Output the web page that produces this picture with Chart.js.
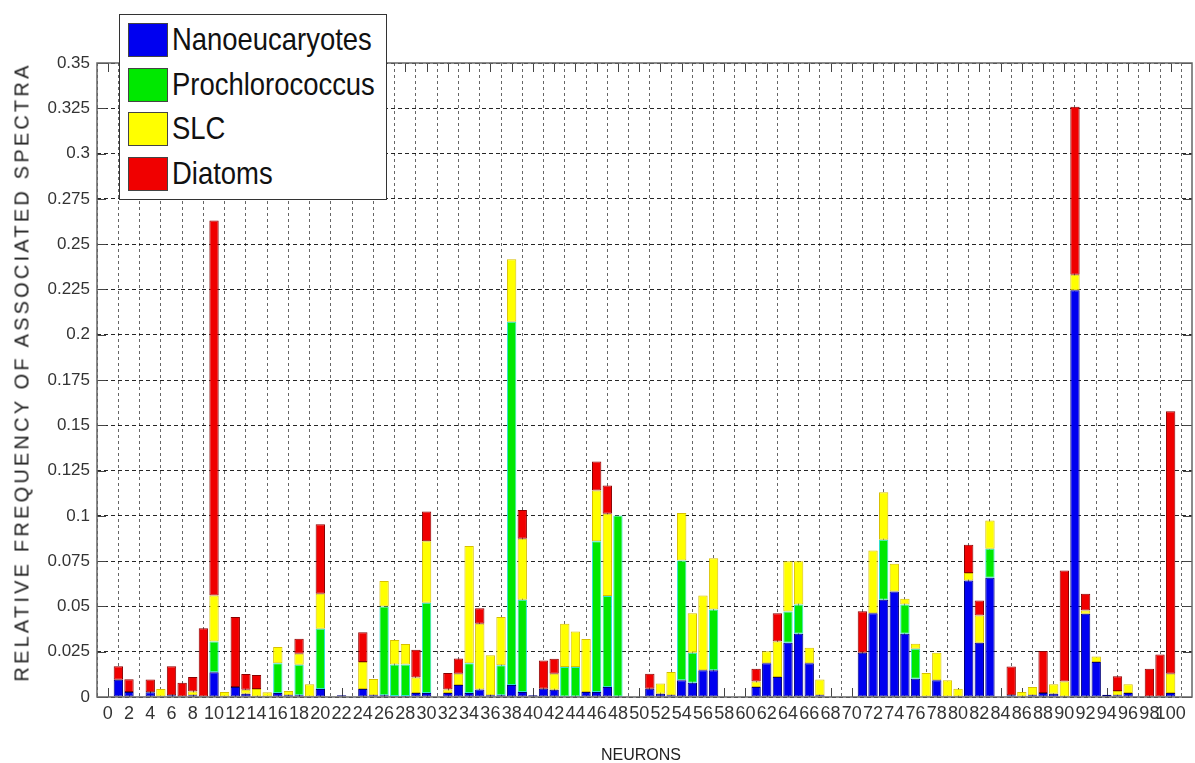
<!DOCTYPE html>
<html>
<head>
<meta charset="utf-8">
<title>Neurons</title>
<script src="https://cdn.jsdelivr.net/npm/chart.js@4.4.0/dist/chart.umd.min.js"></script>
<style>
  body { margin: 0; background: #fff; }
  #wrap { position: relative; width: 1195px; height: 763px; overflow: hidden; }
  #legend {
    position: absolute; left: 119px; top: 14px; width: 268px; height: 186px;
    border: 1px solid #333; background: #fff; box-sizing: border-box;
  }
  .item { position: absolute; left: 8px; height: 34px; }
  .item span.sw { position: absolute; left: 0; top: 0; width: 40px; height: 34px; box-sizing: border-box; border: 1px solid #444; }
  .item span.tx {
    position: absolute; left: 44px; top: -2px; white-space: nowrap;
    font: 28px 'Liberation Sans', Arial, sans-serif; color: #111; line-height: 38px;
    transform: scale(0.98, 1.12); transform-origin: left center;
  }
  #ytitle {
    position: absolute; left: 22px; top: 372px; white-space: nowrap;
    font: 20px 'Liberation Sans', Arial, sans-serif; letter-spacing: 3.2px; color: #222;
    transform: translate(-50%, -50%) rotate(-90deg);
  }
  #xtitle {
    position: absolute; left: 641px; top: 755px; white-space: nowrap;
    font: 16px 'Liberation Sans', Arial, sans-serif; color: #222;
    transform: translate(-50%, -50%);
  }
</style>
</head>
<body>
<div id="wrap">
  <canvas id="neuronChart" width="1195" height="763"></canvas>
  <div id="legend"></div>
  <div id="ytitle">RELATIVE FREQUENCY OF ASSOCIATED SPECTRA</div>
  <div id="xtitle">NEURONS</div>
</div>
<script>
// neurons 1..100
const neurons = [
  1,2,3,4,5,6,7,8,9,10,11,12,13,14,15,16,17,18,19,20,
  21,22,23,24,25,26,27,28,29,30,31,32,33,34,35,36,37,38,39,40,
  41,42,43,44,45,46,47,48,49,50,51,52,53,54,55,56,57,58,59,60,
  61,62,63,64,65,66,67,68,69,70,71,72,73,74,75,76,77,78,79,80,
  81,82,83,84,85,86,87,88,89,90,91,92,93,94,95,96,97,98,99,100];

const nanoeucaryotes = [
  0.0095,0.0028,0,0.0026,0,0.001,0,0.001,0,0.0136,
  0,0.0055,0.0018,0,0,0.0022,0.001,0.001,0,0.0044,
  0,0.001,0,0.0044,0.001,0.001,0.0005,0.0005,0.0022,0.0022,
  0,0.0022,0.0066,0.0022,0.0042,0.001,0.001,0.0066,0.0028,0.001,
  0.0046,0.004,0,0,0.0028,0.0028,0.0055,0,0,0,
  0.0046,0.0018,0.001,0.0092,0.0079,0.0147,0.0147,0,0,0,
  0.0055,0.0187,0.011,0.03,0.0349,0.0187,0.001,0,0,0,
  0.0244,0.0463,0.0537,0.0583,0.0349,0.0101,0,0.0092,0,0,
  0.0643,0.03,0.0658,0,0.001,0,0.001,0.0022,0.0018,0,
  0.2245,0.046,0.0193,0.0013,0.001,0.0022,0,0,0,0.0022];

const prochlorococcus = [
  0,0,0,0,0,0,0,0,0,0.0171,
  0,0,0,0,0,0.0165,0,0.0168,0,0.0333,
  0,0,0,0,0,0.049,0.0175,0.0175,0,0.0498,
  0,0,0,0.0165,0,0,0.0165,0.2006,0.0509,0,
  0,0,0.0165,0.0165,0,0.0832,0.0502,0.1002,0,0,
  0,0,0,0.0662,0.0165,0,0.0336,0,0,0,
  0,0,0,0.0172,0.0162,0,0,0,0,0,
  0,0,0.0331,0,0.0162,0.0166,0,0,0,0,
  0,0,0.016,0,0,0,0,0,0,0,
  0,0,0,0,0,0,0,0,0,0];

const slc = [
  0,0,0,0,0.0044,0,0,0.002,0,0.0254,
  0.0028,0,0.0022,0.0044,0.0026,0.0089,0.0023,0.0061,0.007,0.0193,
  0,0,0,0.0149,0.009,0.014,0.0134,0.0112,0.0085,0.034,
  0,0.002,0.0063,0.0646,0.0362,0.022,0.0266,0.0345,0.0336,0,
  0,0.0089,0.0239,0.0197,0.0292,0.028,0.0454,0,0,0,
  0,0.0056,0.0128,0.0262,0.0219,0.0414,0.0283,0,0,0,
  0.003,0.0065,0.0197,0.0278,0.0239,0.0085,0.0087,0,0,0,
  0,0.0346,0.0262,0.0152,0.0031,0.0027,0.0132,0.0152,0.0092,0.0046,
  0.0041,0.015,0.0156,0,0,0.0028,0.0045,0,0.0052,0.0086,
  0.0086,0.0018,0.0031,0,0.0023,0.0048,0,0,0,0.0107];

const diatoms = [
  0.0075,0.007,0,0.007,0,0.016,0.0079,0.008,0.038,0.207,
  0,0.0386,0.0087,0.0077,0,0,0,0.0083,0,0.0384,
  0,0,0,0.0164,0,0,0,0,0.0154,0.0164,
  0,0.009,0.0084,0,0.0086,0,0,0,0.016,0,
  0.0156,0.0082,0,0,0,0.016,0.0156,0,0,0,
  0.0083,0,0,0,0,0,0,0,0,0,
  0.0071,0,0.0156,0,0,0,0,0,0,0,
  0.023,0,0,0,0,0,0,0,0,0,
  0.0156,0.0083,0,0,0.0159,0,0,0.0232,0,0.0612,
  0.0928,0.0092,0,0,0.0081,0,0,0.0156,0.0235,0.1448];

const xTicks = [0,2,4,6,8,10,12,14,16,18,20,22,24,26,28,30,32,34,36,38,40,42,44,46,48,50,
  52,54,56,58,60,62,64,66,68,70,72,74,76,78,80,82,84,86,88,90,92,94,96,98,100];
const yTicks = [0,0.025,0.05,0.075,0.1,0.125,0.15,0.175,0.2,0.225,0.25,0.275,0.3,0.325,0.35];
const yLabels = ['0','0.025','0.05','0.075','0.1','0.125','0.15','0.175','0.2','0.225','0.25','0.275','0.3','0.325','0.35'];

const series = [
  { label: 'Nanoeucaryotes', values: nanoeucaryotes, color: '#0000f0', edge: '#00007a' },
  { label: 'Prochlorococcus', values: prochlorococcus, color: '#00e800', edge: '#30e0d0' },
  { label: 'SLC', values: slc, color: '#ffff00', edge: '#d8c000' },
  { label: 'Diatoms', values: diatoms, color: '#f00000', edge: '#8a0000' }
];

// legend box (html)
const legend = document.getElementById('legend');
series.forEach((s, i) => {
  const d = document.createElement('div');
  d.className = 'item';
  d.style.top = (8 + i * 44.5) + 'px';
  d.innerHTML = '<span class="sw" style="background:' + s.color + '"></span><span class="tx">' + s.label + '</span>';
  legend.appendChild(d);
});

// box round the plot + small inward ticks like matlab
const frame = {
  id: 'frame',
  beforeDatasetsDraw(chart) {
    const { ctx, chartArea: a, scales } = chart;
    ctx.save();
    ctx.strokeStyle = '#444';
    ctx.lineWidth = 1;
    ctx.beginPath();
    yTicks.forEach(v => {
      const y = Math.round(scales.y.getPixelForValue(v)) + 0.5;
      ctx.moveTo(a.left, y); ctx.lineTo(a.left + 9, y);
      ctx.moveTo(a.right - 9, y); ctx.lineTo(a.right, y);
    });
    xTicks.forEach(v => {
      const x = Math.round(scales.x.getPixelForValue(v)) + 0.5;
      ctx.moveTo(x, a.bottom); ctx.lineTo(x, a.bottom - 9);
      ctx.moveTo(x, a.top); ctx.lineTo(x, a.top + 9);
    });
    ctx.stroke();
    ctx.restore();
  },
  afterDraw(chart) {
    const { ctx, chartArea: a } = chart;
    ctx.save();
    ctx.strokeStyle = '#666';
    ctx.lineWidth = 1.5;
    ctx.strokeRect(a.left, a.top, a.right - a.left, a.bottom - a.top);
    ctx.restore();
  }
};

const ctx = document.getElementById('neuronChart').getContext('2d');
new Chart(ctx, {
  type: 'bar',
  data: {
    datasets: series.map(s => ({
      label: s.label,
      data: neurons.map((n, i) => ({ x: n, y: s.values[i] })),
      backgroundColor: s.color,
      borderColor: s.edge,
      borderWidth: 1,
      borderSkipped: false,
      barPercentage: 0.88,
      categoryPercentage: 1,
      stack: 'all'
    }))
  },
  options: {
    responsive: false,
    animation: false,
    layout: { padding: { left: 0, right: 3, top: 63, bottom: 0 } },
    plugins: { legend: { display: false }, tooltip: { enabled: false } },
    scales: {
      x: {
        type: 'linear',
        stacked: true,
        min: 0,
        max: 101,
        afterBuildTicks: s => { s.ticks = xTicks.map(v => ({ value: v })); },
        afterFit: s => { s.height = 66; },
        ticks: {
          autoSkip: false,
          maxRotation: 0,
          padding: 6,
          color: '#333',
          font: { family: "'Liberation Sans Narrow', 'Liberation Sans', Arial, sans-serif", size: 18 }
        },
        grid: { color: 'rgba(0,0,0,0.6)', drawTicks: false, lineWidth: 1 },
        border: { display: false, dash: [3, 3] }
      },
      y: {
        stacked: true,
        min: 0,
        max: 0.35,
        afterBuildTicks: s => { s.ticks = yTicks.map(v => ({ value: v })); },
        afterFit: s => { s.width = 97; },
        ticks: {
          padding: 7,
          color: '#333',
          font: { family: "'Liberation Sans', Arial, sans-serif", size: 17 },
          callback: (v, i) => yLabels[i]
        },
        grid: { color: 'rgba(0,0,0,0.85)', drawTicks: false, lineWidth: 1 },
        border: { display: false, dash: [4, 3] }
      }
    }
  },
  plugins: [frame]
});
</script>
</body>
</html>
